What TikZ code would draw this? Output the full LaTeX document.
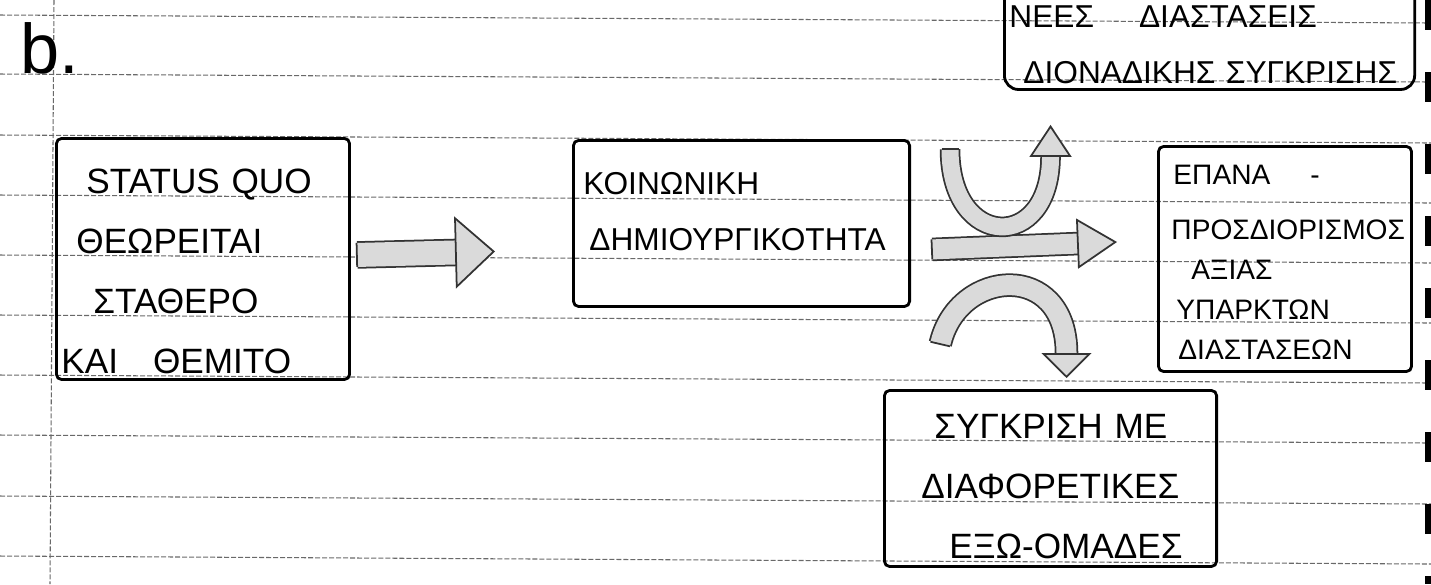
\documentclass[tikz,border=0pt]{standalone}
\usepackage{fontspec}
\setmainfont{Liberation Sans}
\usetikzlibrary{arrows.meta}
\definecolor{hatchcol}{RGB}{218, 218, 218}
\definecolor{rulecol}{RGB}{105, 105, 105}

\begin{document}
\begin{tikzpicture}[
        x=0.01cm, y=-0.01cm,
        box/.style={rectangle, draw, thick, rounded corners=1.5pt, anchor=north west, inner xsep=0.05cm, inner ysep=0pt, align=left},
        ruled/.style={draw=rulecol, line width=0.3pt, dash pattern=on 0.05cm off 0.02cm},
        blockarrow/.style args={#1/#2/#3}{draw=black!80, line width=0.5pt, double=hatchcol, double distance=#1, {Bar[width=#1, line width=0.5pt]}-{Triangle[length=#2, width=#3, line width=0.5pt, fill=hatchcol]}}
    ]
    \useasboundingbox (0,0) rectangle (1431,584);
    \clip (0,0) rectangle (1431,584);

    % Ruled paper
    \draw[ruled] (0,15) -- (1431,23);
    \draw[ruled] (0,74) -- (1431,82);
    \draw[ruled] (0,135) -- (1431,143);
    \draw[ruled] (0,195) -- (1431,203);
    \draw[ruled] (0,255) -- (1431,263);
    \draw[ruled] (0,315) -- (1431,323);
    \draw[ruled] (0,375) -- (1431,383);
    \draw[ruled] (0,435) -- (1431,443);
    \draw[ruled] (0,496) -- (1431,504);
    \draw[ruled] (0,556) -- (1431,564);
    \draw[ruled] (54,0) -- (50,584);
    \draw[line width=0.06cm, dash pattern=on 0.3cm off 0.42cm] (1428,0) -- (1428,584);

    % Label
    \node[font={\fontsize{20}{24}\selectfont}, anchor=base west] (label) at (8,73) {b.};

    % Boxes
    \node[box, text width=2.83cm, text height=0.55cm, text depth=1.86cm, font={\fontsize{10}{17.07}\selectfont}] (status) at (55,137)
        {\hspace*{0.25cm}STATUS QUO\\\hspace*{0.15cm}ΘΕΩΡΕΙΤΑΙ\\\hspace*{0.32cm}ΣΤΑΘΕΡΟ\\ΚΑΙ\hspace{0.35cm}ΘΕΜΙΤΟ};
    \node[box, text width=3.26cm, text height=0.54cm, text depth=1.12cm, font={\fontsize{9}{15.93}\selectfont}] (creat) at (572,139)
        {\hspace*{0.05cm}ΚΟΙΝΩΝΙΚΗ\\\hspace*{0.11cm}ΔΗΜΙΟΥΡΓΙΚΟΤΗΤΑ};
    \node[box, text width=2.43cm, text height=0.38cm, text depth=1.87cm, font={\fontsize{8}{11.38}\selectfont}] (redef) at (1157,145)
        {\hspace*{0.1cm}ΕΠΑΝΑ\hspace{0.4cm}-\\[0.15cm]\hspace*{0.08cm}ΠΡΟΣΔΙΟΡΙΣΜΟΣ\\\hspace*{0.28cm}ΑΞΙΑΣ\\\hspace*{0.13cm}ΥΠΑΡΚΤΩΝ\\\hspace*{0.15cm}ΔΙΑΣΤΑΣΕΩΝ};
    \node[box, text width=3.22cm, text height=0.48cm, text depth=1.28cm, font={\fontsize{10}{17.07}\selectfont}] (compare) at (883,389)
        {\hspace*{0.45cm}ΣΥΓΚΡΙΣΗ ΜΕ\\\hspace*{0.32cm}ΔΙΑΦΟΡΕΤΙΚΕΣ\\\hspace*{0.6cm}ΕΞΩ-ΟΜΑΔΕΣ};
    \node[box, rounded corners=4pt, text width=4.0cm, text height=0.66cm, text depth=0.62cm, font={\fontsize{9}{15.93}\selectfont}] (newdims) at (1003,-40)
        {ΝΕΕΣ\hspace{0.45cm}ΔΙΑΣΤΑΣΕΙΣ\\\hspace*{0.14cm}ΔΙΟΝΑΔΙΚΗΣ ΣΥΓΚΡΙΣΗΣ};

    % Arrows
    \draw[blockarrow=0.24cm/0.4cm/0.72cm] ([shift={(5,-4)}]status.east) -- ([shift={(-77,28)}]creat.west);
    \draw[blockarrow=0.2cm/0.4cm/0.5cm] ([shift={(20,26)}]creat.east) -- ([shift={(-40,-17)}]redef.west);
    \draw[blockarrow=0.17cm/0.32cm/0.42cm] ([shift={(39,9)}]creat.north east) .. controls +(0,102) and +(0,128) .. ([shift={(-159,34)}]newdims.south);
    \draw[blockarrow=0.2cm/0.25cm/0.5cm] ([shift={(29,37)}]creat.south east) .. controls +(18,-77) and +(0,-118) .. ([shift={(16,-11)}]compare.north);

\end{tikzpicture}
\end{document}
